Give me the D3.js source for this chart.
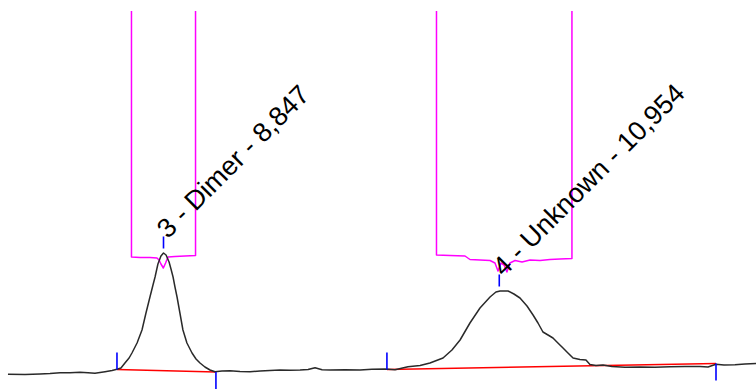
<!DOCTYPE html>
<html>
<head>
<meta charset="utf-8">
<script src="https://cdn.jsdelivr.net/npm/d3@7"></script>
<style>
  html, body { margin: 0; padding: 0; background: #fff; }
  svg { display: block; }
</style>
</head>
<body>
<svg id="chart" width="756" height="389"></svg>
<script>
// Detector trace (time in min, signal in mAU)
const traceTime = [7.871, 7.978, 8.072, 8.135, 8.198, 8.260, 8.323, 8.373, 8.417, 8.480,
  8.524, 8.555, 8.580, 8.605, 8.631, 8.649, 8.681, 8.712, 8.737, 8.762,
  8.781, 8.794, 8.812, 8.831, 8.847, 8.863, 8.882, 8.894, 8.907, 8.919,
  8.932, 8.950, 8.969, 8.994, 9.026, 9.051, 9.076, 9.107, 9.139, 9.170,
  9.214, 9.264, 9.327, 9.390, 9.453, 9.515, 9.578, 9.641, 9.704, 9.754,
  9.798, 9.842, 9.892, 9.986, 10.080, 10.155, 10.237, 10.300, 10.381, 10.457,
  10.519, 10.601, 10.657, 10.708, 10.770, 10.833, 10.896, 10.933, 10.959, 11.009,
  11.046, 11.084, 11.128, 11.166, 11.197, 11.228, 11.260, 11.291, 11.322, 11.354,
  11.385, 11.417, 11.460, 11.498, 11.523, 11.561, 11.605, 11.661, 11.743, 11.837,
  11.931, 12.025, 12.119, 12.214, 12.264, 12.314, 12.364, 12.433, 12.496, 12.565];
const traceSignal = [-2.15, -2.25, -2.0, -1.75, -1.35, -1.4, -1.15, -1.4, -1.65, -0.85,
  -0.25, 0.35, 1.0, 3.5, 6.0, 8.5, 13.5, 20, 28.5, 36.5,
  42.5, 46.5, 53, 57, 58.5, 57.5, 54, 50.5, 46.5, 41.5,
  36.5, 28.5, 20, 13.5, 8.5, 5.5, 3.5, 1.5, 0, -0.85,
  -0.5, -0.35, -0.75, -0.85, -0.5, -0.25, 0, -0.15, 0, 0.25,
  1.15, 0.15, 0, 0.1, 0, 0.35, 0.5, 0.1, 1.65, 2.25,
  3.5, 6.0, 10, 15, 23.5, 31, 36.5, 39, 39.5, 39.5,
  38, 36, 32, 27.5, 23.5, 19, 17.5, 16, 13.5, 11,
  8.5, 6, 5.25, 5, 2.75, 2.25, 2.5, 1.75, 1.35, 1.5,
  1.35, 1.6, 1.75, 1.75, 1.5, 2.85, 2.5, 2.6, 3, 3.25];

// Second channel, off scale except in two windows
const refTime = [8.646, 8.646, 8.700, 8.762, 8.806, 8.819, 8.831, 8.846, 8.860, 8.875,
  8.919, 8.982, 9.048, 9.048,
  10.560, 10.560, 10.645, 10.739, 10.770, 10.833, 10.896, 10.927, 10.946, 10.965,
  10.984, 11.002, 11.021, 11.053, 11.097, 11.147, 11.210, 11.272, 11.335, 11.410, 11.410];
const refSignal = [400, 56.5, 56.25, 56.25, 56, 55, 53, 51, 53.5, 56.5,
  56.75, 57, 57.25, 400,
  400, 57.5, 57.25, 57, 55.25, 55, 54.75, 53.5, 49.5, 53.5,
  52.5, 49, 53.5, 54.75, 54, 55, 54.75, 55.25, 55.5, 55.75, 400];

// Integrated peaks
const peakNumbers = [3, 4];
const peakNames = ["Dimer", "Unknown"];
const peakTimes = [8.847, 10.954];
const peakApex = [58.5, 39.5];
const peakStartTimes = [8.555, 10.249];
const peakStartLevels = [0.25, 0.25];
const peakEndTimes = [9.176, 12.314];
const peakEndLevels = [-1.0, 3.25];

const width = 756, height = 389;
const svg = d3.select("#chart");

const x = d3.scaleLinear().domain([7.821, 12.565]).range([0, width]);
const y = d3.scaleLinear().domain([-9.5, 179.5]).range([height, 11]);

svg.append("defs").append("clipPath").attr("id", "plot-clip")
  .append("rect").attr("x", 0).attr("y", y(179.5)).attr("width", width).attr("height", height - y(179.5));

const line = d3.line().x(d => x(d[0])).y(d => y(d[1]));

// second channel (clipped at top of plot)
svg.append("path")
  .datum(d3.zip(refTime, refSignal))
  .attr("clip-path", "url(#plot-clip)")
  .attr("fill", "none")
  .attr("stroke", "#ff00ff")
  .attr("stroke-width", 1.5)
  .attr("stroke-linejoin", "round")
  .attr("d", line);

const peaks = peakNumbers.map((n, i) => ({
  num: n, name: peakNames[i], rt: peakTimes[i], apex: peakApex[i],
  t0: peakStartTimes[i], v0: peakStartLevels[i], t1: peakEndTimes[i], v1: peakEndLevels[i]
}));

// integration baselines
svg.selectAll("line.base").data(peaks).join("line")
  .attr("class", "base")
  .attr("x1", d => x(d.t0)).attr("y1", d => y(d.v0))
  .attr("x2", d => x(d.t1)).attr("y2", d => y(d.v1))
  .attr("stroke", "#ff0000").attr("stroke-width", 1.6);

// main trace
svg.append("path")
  .datum(d3.zip(traceTime, traceSignal))
  .attr("fill", "none")
  .attr("stroke", "#2a2a2a")
  .attr("stroke-width", 1.5)
  .attr("stroke-linejoin", "round")
  .attr("d", line);

// peak start / end / apex markers
const markLen = 17, apexGap = 4.5, apexLen = 12;
const g = svg.append("g").attr("stroke", "#0000ff").attr("stroke-width", 1.6);
peaks.forEach(d => {
  g.append("line").attr("x1", x(d.t0)).attr("x2", x(d.t0))
    .attr("y1", y(d.v0)).attr("y2", y(d.v0) - markLen);
  g.append("line").attr("x1", x(d.t1)).attr("x2", x(d.t1))
    .attr("y1", y(d.v1)).attr("y2", y(d.v1) + markLen);
  g.append("line").attr("x1", x(d.rt)).attr("x2", x(d.rt))
    .attr("y1", y(d.apex) - apexGap).attr("y2", y(d.apex) - apexGap - apexLen);
});

// peak labels
const fmt = v => d3.format(".3f")(v).replace(".", ",");
svg.selectAll("text.peak").data(peaks).join("text")
  .attr("class", "peak")
  .attr("transform", d => `translate(${x(d.rt) + 4.5},${y(d.apex) - apexGap - apexLen + 3}) rotate(-45)`)
  .attr("font-family", "'Liberation Sans', Arial, sans-serif")
  .attr("font-size", 27)
  .attr("fill", "#000")
  .text(d => `${d.num} - ${d.name} - ${fmt(d.rt)}`);
</script>
</body>
</html>
